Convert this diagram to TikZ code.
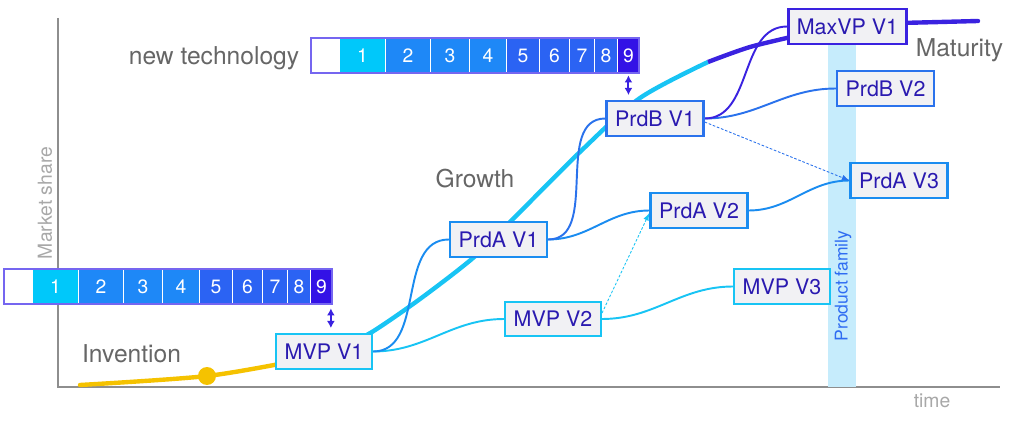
\documentclass[tikz,border=0pt]{standalone}
\usepackage{fontspec}
\setmainfont{TeX Gyre Heros}
\usepackage{tikz}
\usetikzlibrary{arrows,arrows.meta,calc}
\tikzset{>=latex}

\definecolor{mvpcyan}{HTML}{18C4F4}
\definecolor{prdablue}{HTML}{1A8CF0}
\definecolor{prdbblue}{HTML}{2A72EC}
\definecolor{maxindigo}{HTML}{3A22E0}
\definecolor{boxgray}{HTML}{F1F1F4}
\definecolor{boxtext}{HTML}{2A1AB0}
\definecolor{phasegray}{HTML}{666666}
\definecolor{axisgray}{HTML}{8E8E8E}
\definecolor{faintgray}{HTML}{A8A8A8}
\definecolor{inventyellow}{HTML}{F5C200}
\definecolor{familyband}{HTML}{C6ECFC}
\definecolor{familytext}{HTML}{2F6CF2}
\definecolor{barframe}{HTML}{7566F0}
\definecolor{cellone}{HTML}{00C8FA}
\definecolor{celltwo}{HTML}{1E88F7}
\definecolor{cellfive}{HTML}{2B63F3}
\definecolor{cellnine}{HTML}{3312E6}

\pgfdeclarelayer{bg}
\pgfdeclarelayer{links}
\pgfsetlayers{bg,links,main}

\tikzset{
  stage/.style={draw, line width=1.4pt, fill=boxgray, text=boxtext, font=\fontsize{12.2}{14}\selectfont, minimum height=0.69cm, inner xsep=0.17cm, inner ysep=0pt},
  phase/.style={text=phasegray, font=\fontsize{14}{16}\selectfont},
  axislabel/.style={text=faintgray, font=\fontsize{11}{13}\selectfont},
  cell/.style={draw=white, line width=0.5pt, text=white, minimum height=0.7cm, inner sep=0pt, anchor=north west, font=\fontsize{11}{13}\selectfont},
  link/.style={line width=1.1pt, out=0, in=180},
  hint/.style={->, line width=0.5pt, dash pattern=on 1.5pt off 1pt},
  release/.style={{Latex[length=4pt,width=4.5pt]}-{Latex[length=4pt,width=4.5pt]}, line width=1.1pt, draw=maxindigo},
  sgrowth/.style={line width=2.5pt},
}

\begin{document}
\begin{tikzpicture}[x=0.02cm, y=-0.02cm]
    \useasboundingbox (0,0) rectangle (1024,432);

    \begin{pgfonlayer}{bg}
    \draw[axisgray, line width=1.1pt] (58,18) -- (58,387) -- (1000,387);
    \fill[familyband] (828,30) rectangle (856,387);
    \end{pgfonlayer}

    \node[axislabel, rotate=90] (share) at (45,203) {Market share};
    \node[axislabel] (time) at (932,401) {time};
    \node[rotate=90, text=familytext, font=\fontsize{10}{12}\selectfont] (family) at (843,286) {Product family};

    \node[phase] (invention) at (131.5,354) {Invention};
    \node[phase] (growth) at (475,179) {Growth};
    \node[phase] (maturity) at (959.5,50) {Maturity};
    \node[phase] (newtech) at (214,58) {new technology};

    \node[stage, draw=mvpcyan] (mvp1) at (324,351.5) {MVP V1};
    \node[stage, draw=prdablue] (prda1) at (498.5,239.5) {PrdA V1};
    \node[stage, draw=mvpcyan] (mvp2) at (553,319) {MVP V2};
    \node[stage, draw=prdablue] (prda2) at (699,210.5) {PrdA V2};
    \node[stage, draw=mvpcyan] (mvp3) at (782,286.5) {MVP V3};
    \node[stage, draw=prdbblue] (prdb1) at (655,118.5) {PrdB V1};
    \node[stage, draw=maxindigo] (maxvp1) at (847.5,26.5) {MaxVP V1};
    \node[stage, draw=prdbblue] (prdb2) at (885.5,88.5) {PrdB V2};
    \node[stage, draw=prdablue] (prda3) at (899,180.5) {PrdA V3};

    \foreach \bar/\bx/\by in {old/4/269, new/311/38} {
      \fill[white] (\bx,\by) rectangle +(328,35);
      \foreach \n/\s/\w/\c in {1/28/46/cellone, 2/74/45/celltwo, 3/119/39/celltwo, 4/158/37/celltwo, 5/195/33/cellfive, 6/228/30/cellfive, 7/258/25/cellfive, 8/283/23/cellfive, 9/306/22/cellnine}
        \node[cell, fill=\c, minimum width=\w*0.02cm] (\bar\n) at (\bx+\s,\by) {\n};
      \draw[barframe, line width=0.6pt] (\bx,\by) rectangle +(328,35);
    }

    \coordinate (oldtip) at ([xshift=-0.04cm]old9.south east);
    \draw[release, shorten <=0.07cm, shorten >=0.1cm] (oldtip) -- (oldtip |- mvp1.north);
    \draw[release, shorten <=0.03cm, shorten >=0.1cm] (new9.south) -- (new9.south |- prdb1.north);

    \begin{pgfonlayer}{links}
    \draw[sgrowth, inventyellow, line cap=round] plot[smooth] coordinates {(80,385) (207,376) (300,360)};
    \fill[inventyellow] (207,376) circle (0.18cm);
    \draw[sgrowth, mvpcyan] plot[smooth] coordinates {(345,345) (372,332) (420,299) (473,258) (511,221) (582,150) (640,98) (708,62)};
    \draw[sgrowth, maxindigo] plot[smooth] coordinates {(708,62) (750,47) (800,35)};
    \draw[sgrowth, maxindigo, line cap=round] plot[smooth] coordinates {(900,23) (940,22) (978,21)};

    \draw[link, mvpcyan] (mvp1.east) to (mvp2.west);
    \draw[link, mvpcyan] (mvp2.east) to (mvp3.west);
    \draw[link, prdablue] (mvp1.east) to (prda1.west);
    \draw[link, prdablue] (prda1.east) to (prda2.west);
    \draw[link, prdablue] (prda2.east) to (prda3.west);
    \draw[link, prdbblue] (prda1.east) to (prdb1.west);
    \draw[link, prdbblue] (prdb1.east) to (prdb2.west);
    \draw[link, maxindigo] (prdb1.east) to (maxvp1.west);

    \draw[hint, mvpcyan] ([yshift=0.12cm]mvp2.east) -- ([yshift=-0.05cm]prda2.west);
    \draw[hint, prdbblue] ([yshift=-0.07cm]prdb1.east) -- (prda3.west);
    \end{pgfonlayer}
\end{tikzpicture}
\end{document}
